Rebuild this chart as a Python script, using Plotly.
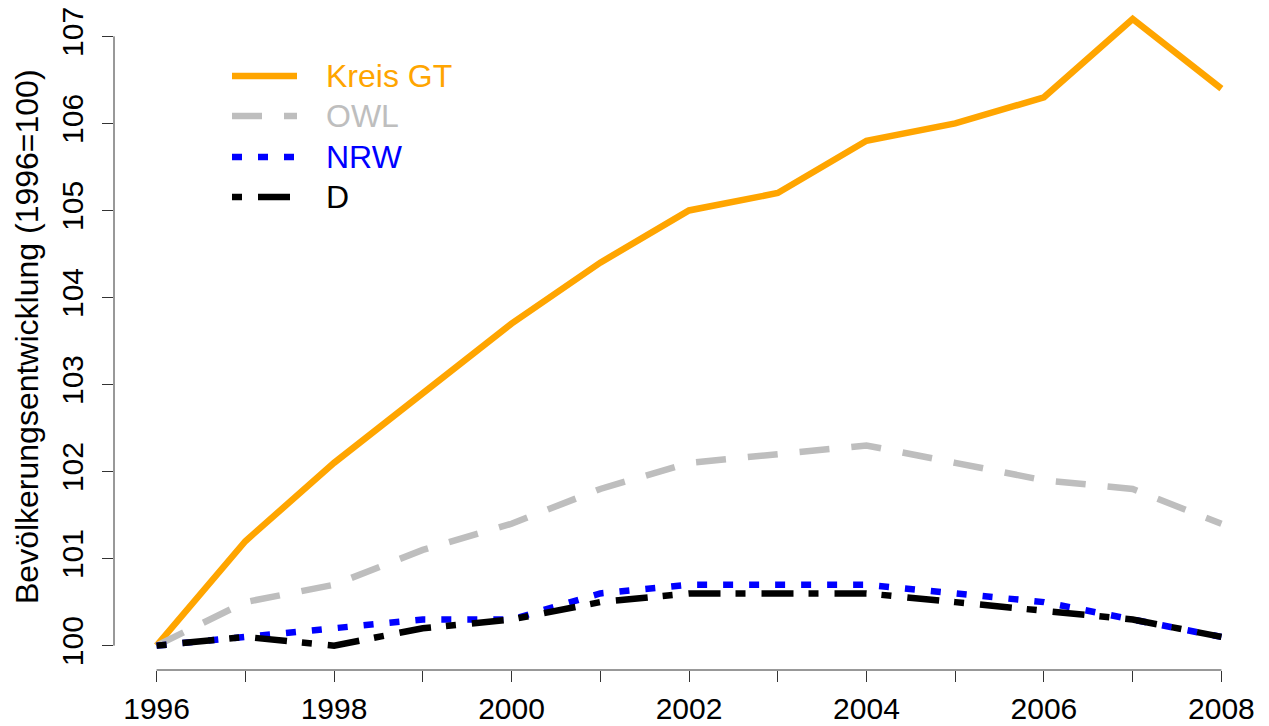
import plotly.graph_objects as go

years = list(range(1996, 2009))
kreis_gt = [100.0, 101.2, 102.1, 102.9, 103.7, 104.4, 105.0, 105.2, 105.8, 106.0, 106.3, 107.2, 106.4]
owl = [100.0, 100.5, 100.7, 101.1, 101.4, 101.8, 102.1, 102.2, 102.3, 102.1, 101.9, 101.8, 101.4]
nrw = [100.0, 100.1, 100.2, 100.3, 100.3, 100.6, 100.7, 100.7, 100.7, 100.6, 100.5, 100.3, 100.1]
d = [100.0, 100.1, 100.0, 100.2, 100.3, 100.5, 100.6, 100.6, 100.6, 100.5, 100.4, 100.3, 100.1]

x_ticklabels = [str(y) if y % 2 == 0 else "" for y in years]
y_ticks = [100, 101, 102, 103, 104, 105, 106, 107]

series = [
    ("Kreis GT", kreis_gt, "#FFA500", "solid"),
    ("OWL", owl, "#BEBEBE", "30px,22px"),
    ("NRW", nrw, "#0000FF", "10px,16px"),
    ("D", d, "#000000", "10px,16px,32px,15px"),
]

font = "Liberation Sans, Arial, sans-serif"
# page body has an 8px margin, so the figure is drawn 8px in from the corner
OFF = 8
W, H = 1269 - OFF, 726 - OFF
ml, mr, mt, mb = 106, 5, 4, 56
pw, ph = W - ml - mr, H - mt - mb


def px_x(x):
    return (x - OFF - ml) / pw


def px_y(y):
    return (H - mb - (y - OFF)) / ph


fig = go.Figure()
for name, vals, col, dash in series:
    fig.add_trace(go.Scatter(x=years, y=vals, mode="lines", name=name,
                             line=dict(color=col, width=6.5, dash=dash)))

# R-style axis lines, running only from first to last tick
shapes = [
    dict(type="line", xref="x", yref="paper", x0=years[0], x1=years[-1], y0=0, y1=0,
         line=dict(color="#333", width=1)),
    dict(type="line", xref="paper", yref="y", x0=0, x1=0, y0=y_ticks[0], y1=y_ticks[-1],
         line=dict(color="#333", width=1)),
]

# hand-made legend (long keys like base R)
annotations = []
rows_px = [76, 116, 157, 197]
for (name, vals, col, dash), ry in zip(series, rows_px):
    shapes.append(dict(type="line", xref="paper", yref="paper",
                       x0=px_x(232), x1=px_x(297), y0=px_y(ry), y1=px_y(ry),
                       line=dict(color=col, width=6.5, dash=dash)))
    annotations.append(dict(xref="paper", yref="paper", x=px_x(324), y=px_y(ry),
                            text=name, showarrow=False, xanchor="left", yanchor="middle",
                            font=dict(family=font, size=32, color=col)))

# y axis title
annotations.append(dict(xref="paper", yref="paper", x=px_x(27), y=px_y(337),
                        text="Bevölkerungsentwicklung (1996=100)", textangle=-90,
                        showarrow=False, xanchor="center", yanchor="middle",
                        font=dict(family=font, size=32, color="black")))

fig.update_layout(
    width=W, height=H,
    margin=dict(l=ml, r=mr, t=mt, b=mb),
    plot_bgcolor="white", paper_bgcolor="white",
    showlegend=False,
    font=dict(family=font, size=30, color="black"),
    shapes=shapes, annotations=annotations,
    xaxis=dict(range=[1995.52, 2008.48], tickvals=years, ticktext=x_ticklabels,
               ticks="outside", ticklen=11, tickcolor="#333", showline=False,
               showgrid=False, zeroline=False, ticklabelstandoff=1,
               automargin=False, ticklabeloverflow="allow"),
    yaxis=dict(range=[99.72, 107.28], tickvals=y_ticks, ticks="outside", ticklen=11,
               tickcolor="#333", tickangle=-90, showline=False, showgrid=False,
               zeroline=False, ticklabelstandoff=7, automargin=False,
               ticklabeloverflow="allow"),
)

fig.write_html("out.html")
